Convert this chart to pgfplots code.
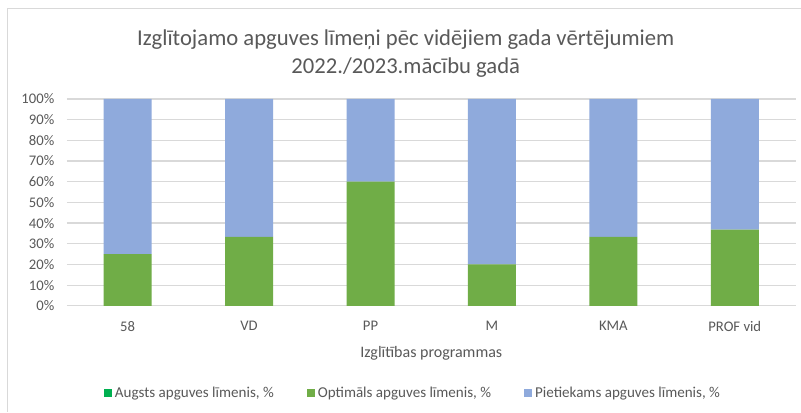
\documentclass[border=0pt]{standalone}
\usepackage{fontspec}
\setmainfont{Carlito}
\usepackage{pgfplots}
\pgfplotsset{compat=1.18}
\definecolor{txt}{HTML}{595959}
\definecolor{grd}{HTML}{D9D9D9}
\definecolor{cA}{HTML}{00B050}
\definecolor{cO}{HTML}{70AD47}
\definecolor{cP}{HTML}{8FAADC}
\begin{document}
\begin{tikzpicture}[x=0.75pt,y=0.75pt]
\path[fill=white] (0,0) rectangle (801,412);
\draw[grd,line width=0.75pt] (8,0) -- (8,403) -- (801,403);
\node[txt,font=\fontsize{17}{20.5}\selectfont,align=center] at (406,358.5) {Izglītojamo apguves līmeņi pēc vidējiem gada vērtējumiem\\2022./2023.mācību gadā};
\begin{axis}[
  at={(50.25pt,79.5pt)}, anchor=south west,
  scale only axis, width=546.75pt, height=155.25pt,
  ybar stacked, bar width=36pt,
  xmin=-0.5, xmax=5.5, ymin=0, ymax=100,
  xtick=data, xticklabels={58,VD,PP,M,KMA,PROF vid},
  ytick={0,10,...,100},
  yticklabel={\pgfmathprintnumber{\tick}\%},
  /pgf/number format/assume math mode=true,
  major tick length=0pt,
  axis line style={draw=none},
  ymajorgrids, grid style={grd,line width=0.9pt},
  ticklabel style={font=\fontsize{11}{12}\selectfont,text=txt},
  xticklabel style={yshift=-8pt},
  yticklabel style={xshift=-6pt},
  xlabel={Izglītības programmas},
  xlabel style={font=\fontsize{12}{14}\selectfont,text=txt,yshift=-4pt},
  legend columns=3,
  legend style={draw=none,fill=none,at={(0.0508,-0.422)},anchor=west,inner sep=0pt,
    font=\fontsize{11.3}{12}\selectfont,text=txt,
    /tikz/every even column/.append style={column sep=23pt}},
  legend image code/.code={\fill[#1] (0pt,-3pt) rectangle (6pt,3pt);},
]
\addplot[fill=cA,draw=none] coordinates {(0,0) (1,0) (2,0) (3,0) (4,0) (5,0)};
\addplot[fill=cO,draw=none] coordinates {(0,25) (1,33.33) (2,60) (3,20) (4,33.33) (5,36.8)};
\addplot[fill=cP,draw=none] coordinates {(0,75) (1,66.67) (2,40) (3,80) (4,66.67) (5,63.2)};
\legend{{Augsts apguves līmenis, \%},{Optimāls apguves līmenis, \%},{Pietiekams apguves līmenis, \%}}
\end{axis}
\end{tikzpicture}
\end{document}
